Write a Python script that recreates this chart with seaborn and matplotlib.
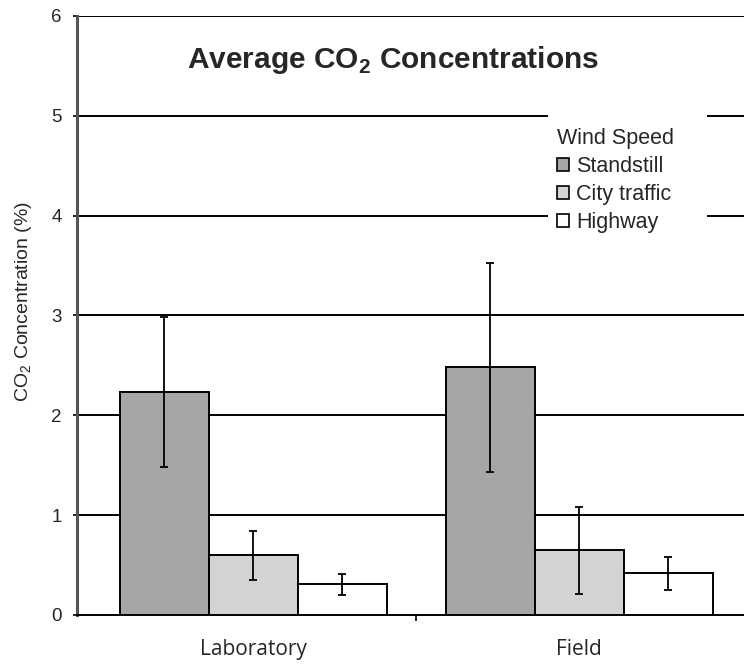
import matplotlib
matplotlib.use("Agg")
import matplotlib.pyplot as plt
import pandas as pd
import seaborn as sns
from matplotlib.patches import Rectangle

# values
locations = ["Laboratory", "Field"]
wind_speeds = ["Standstill", "City traffic", "Highway"]
mean_lab = [2.23, 0.60, 0.31]
mean_field = [2.48, 0.65, 0.42]
err_lab = [0.75, 0.245, 0.105]
err_field = [1.045, 0.435, 0.165]
bar_colors = ["#a6a6a6", "#d3d3d3", "#ffffff"]
y_ticks = [0, 1, 2, 3, 4, 5, 6]

df = pd.DataFrame({
    "location": [loc for loc in locations for _ in wind_speeds],
    "wind": wind_speeds * len(locations),
    "co2": mean_lab + mean_field,
    "err": err_lab + err_field,
})

sns.set_style("white")
plt.rcParams["font.family"] = ["Liberation Sans", "DejaVu Sans"]
plt.rcParams["mathtext.fontset"] = "custom"
plt.rcParams["mathtext.rm"] = "Liberation Sans"
plt.rcParams["mathtext.bf"] = "Liberation Sans:bold"

fig = plt.figure(figsize=(7.44, 6.64), dpi=100)
ax = fig.add_axes([0.1035, 0.0738, 0.8965, 0.9022])

sns.barplot(
    data=df, x="location", y="co2", hue="wind",
    order=locations, hue_order=wind_speeds,
    palette=bar_colors, width=0.82, errorbar=None,
    edgecolor="black", linewidth=1.4, saturation=1, zorder=3, ax=ax,
)

# error bars centred on the bars seaborn drew
for cont, wind in zip(ax.containers, wind_speeds):
    sub = df[df["wind"] == wind].set_index("location").loc[locations]
    xs = [p.get_x() + p.get_width() / 2 for p in cont.patches]
    ax.errorbar(xs, sub["co2"], yerr=sub["err"], fmt="none", ecolor="black",
                elinewidth=1.3, capsize=3, capthick=1.3, zorder=4)

ax.set_ylim(0, 6)
ax.set_xlim(-0.541, 1.505)
ax.set_yticks(y_ticks)
ax.set_yticklabels([str(t) for t in y_ticks], fontsize=13.5)
for t in y_ticks[1:]:
    ax.axhline(t, color="black", linewidth=1.4, zorder=1)

ax.set_xticks([0, 1])
ax.set_xticklabels(locations, fontsize=15, family=["Open Sans", "DejaVu Sans"])
ax.set_xticks([0.5], minor=True)
ax.tick_params(axis="x", which="major", length=0, pad=17)
ax.tick_params(axis="x", which="minor", length=4, width=1.2, color="black",
               direction="out", bottom=True)
ax.tick_params(axis="y", length=3, width=1.2, color="black", direction="out",
               left=True, pad=8)
ax.set_xlabel("")
ax.set_ylabel(r"CO$_2$ Concentration (%)", fontsize=14)
ax.yaxis.set_label_coords(-0.0645, 0.5225)

for side in ["top", "right"]:
    ax.spines[side].set_visible(False)
ax.spines["left"].set_color("#555555")
ax.spines["left"].set_linewidth(2.2)
ax.spines["bottom"].set_color("black")
ax.spines["bottom"].set_linewidth(1.4)

ax.text(0.428, 5.479, r"Average CO$_\mathbf{2}$ Concentrations", ha="center",
        va="baseline", fontsize=21.5, fontweight="bold", zorder=5)

# white block behind the legend that interrupts the grid lines
ax.add_patch(Rectangle((0.706, 0.634), 0.239, 0.226, transform=ax.transAxes,
                       facecolor="white", edgecolor="none", zorder=2))

leg = ax.legend(title="Wind Speed", loc="upper left",
                bbox_to_anchor=(0.72, 0.813), frameon=False,
                fontsize=15.5, title_fontsize=15.5, handlelength=0.56,
                handleheight=0.56, handletextpad=0.3, labelspacing=0.33,
                borderpad=0, borderaxespad=0)
leg._legend_box.align = "left"
leg.set_zorder(6)
for h in leg.legend_handles:
    h.set_edgecolor("black")
    h.set_linewidth(1.2)

fig.savefig("out.png", dpi=100)
